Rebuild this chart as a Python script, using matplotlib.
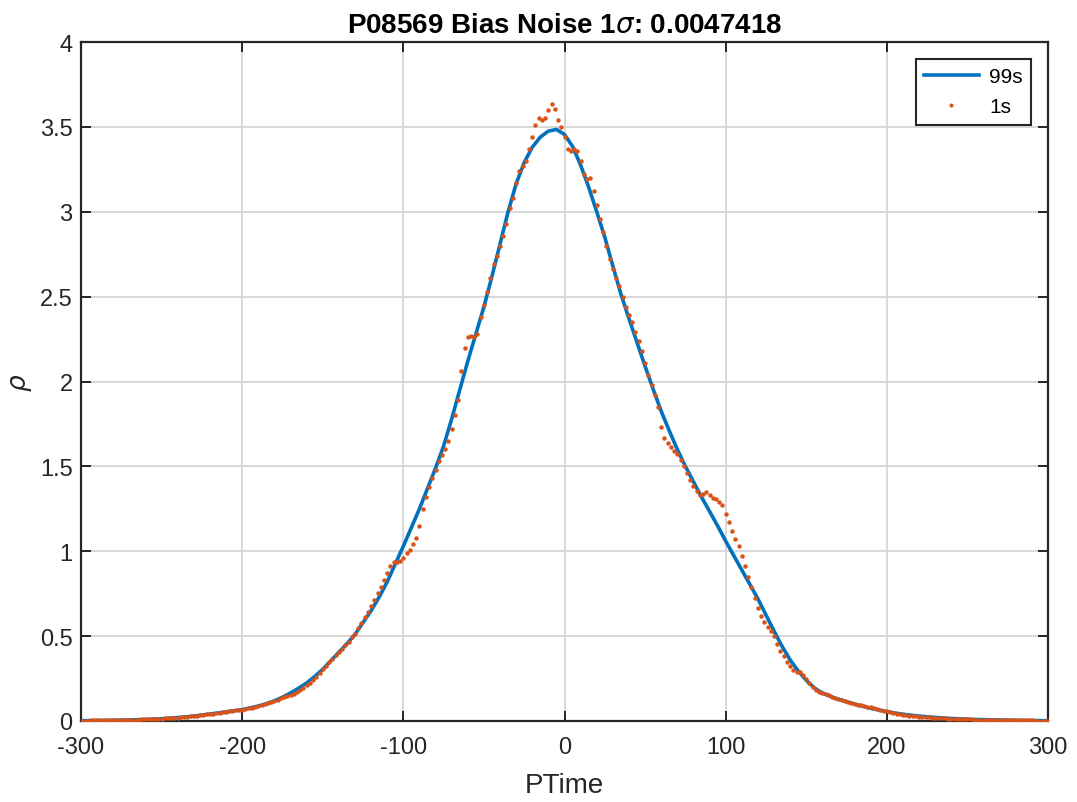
import numpy as np
import matplotlib.pyplot as plt

# smooth 99s curve, every 5 units from -300 to 300
x_99 = np.arange(-300, 301, 5)
rho_99 = [
    0.002, 0.002, 0.003, 0.003, 0.004, 0.005, 0.006, 0.008, 0.009, 0.011,   # -300..-255
    0.013, 0.016, 0.020, 0.024, 0.029, 0.035, 0.041, 0.047, 0.054, 0.060,   # -250..-205
    0.067, 0.077, 0.088, 0.102, 0.119, 0.140, 0.165, 0.193, 0.224, 0.262,   # -200..-155
    0.305, 0.355, 0.405, 0.455, 0.51, 0.58, 0.65, 0.73, 0.82, 0.925,        # -150..-105
    1.03, 1.14, 1.25, 1.37, 1.49, 1.62, 1.78, 1.95, 2.12, 2.28,             # -100..-55
    2.44, 2.62, 2.81, 3.00, 3.165, 3.29, 3.38, 3.44, 3.475, 3.485,          # -50..-5
    3.455, 3.385, 3.275, 3.145, 3.00, 2.85, 2.68, 2.515, 2.37, 2.23,        # 0..45
    2.09, 1.955, 1.825, 1.71, 1.60, 1.50, 1.41, 1.32, 1.235, 1.15,          # 50..95
    1.06, 0.975, 0.89, 0.805, 0.72, 0.625, 0.53, 0.44, 0.36, 0.295,         # 100..145
    0.24, 0.195, 0.165, 0.145, 0.128, 0.114, 0.100, 0.087, 0.075, 0.065,    # 150..195
    0.055, 0.047, 0.040, 0.034, 0.029, 0.025, 0.021, 0.018, 0.015, 0.013,   # 200..245
    0.011, 0.009, 0.008, 0.007, 0.006, 0.005, 0.004, 0.003, 0.003, 0.002,   # 250..295
    0.002,                                                                  # 300
]

# noisy 1s estimate, every 2 units from -300 to 300
x_1 = np.arange(-300, 301, 2)
rho_1 = [
    # -300..-200
    0.002, 0.002, 0.002, 0.003, 0.003, 0.003, 0.003, 0.003, 0.004, 0.004,
    0.004, 0.005, 0.005, 0.005, 0.006, 0.006, 0.007, 0.008, 0.008, 0.009,
    0.009, 0.010, 0.011, 0.012, 0.012, 0.013, 0.015, 0.016, 0.017, 0.019,
    0.020, 0.022, 0.023, 0.025, 0.027, 0.029, 0.032, 0.034, 0.036, 0.039,
    0.041, 0.043, 0.046, 0.049, 0.052, 0.054, 0.057, 0.059, 0.062, 0.064,
    0.067,
    # -198..-150
    0.071, 0.075, 0.078, 0.083, 0.087, 0.093, 0.098, 0.105, 0.111, 0.117,
    0.125, 0.133, 0.141, 0.149, 0.156, 0.162, 0.172, 0.183, 0.196, 0.21,
    0.223, 0.242, 0.262, 0.283, 0.305,
    # -148..-100
    0.325, 0.345, 0.366, 0.386, 0.405, 0.425, 0.446, 0.468, 0.492, 0.515,
    0.55, 0.58, 0.61, 0.645, 0.68, 0.715, 0.755, 0.79, 0.83, 0.87,
    0.915, 0.935, 0.935, 0.94, 0.96,
    # -98..-50
    0.99, 1.01, 1.04, 1.08, 1.15, 1.25, 1.32, 1.38, 1.43, 1.48,
    1.53, 1.565, 1.60, 1.65, 1.72, 1.80, 1.89, 2.06, 2.20, 2.265,
    2.27, 2.26, 2.28, 2.38, 2.45,
    # -48..0
    2.53, 2.61, 2.69, 2.74, 2.80, 2.86, 2.93, 3.02, 3.08, 3.17,
    3.24, 3.27, 3.30, 3.37, 3.44, 3.51, 3.55, 3.54, 3.555, 3.60,
    3.635, 3.605, 3.54, 3.50, 3.44,
    # 2..50
    3.37, 3.36, 3.37, 3.36, 3.30, 3.22, 3.19, 3.20, 3.12, 3.04,
    2.96, 2.88, 2.80, 2.72, 2.66, 2.61, 2.56, 2.50, 2.44, 2.39,
    2.35, 2.29, 2.24, 2.18, 2.11,
    # 52..100
    2.04, 1.98, 1.92, 1.85, 1.73, 1.665, 1.64, 1.615, 1.59, 1.57,
    1.535, 1.50, 1.46, 1.42, 1.385, 1.355, 1.33, 1.337, 1.347, 1.33,
    1.315, 1.305, 1.29, 1.275, 1.22,
    # 102..150
    1.17, 1.12, 1.075, 1.03, 0.97, 0.915, 0.85, 0.79, 0.725, 0.665,
    0.62, 0.585, 0.555, 0.53, 0.50, 0.455, 0.415, 0.38, 0.35, 0.325,
    0.30, 0.288, 0.287, 0.27, 0.245,
    # 152..200
    0.222, 0.20, 0.182, 0.17, 0.165, 0.16, 0.152, 0.143, 0.135, 0.129,
    0.123, 0.117, 0.112, 0.107, 0.102, 0.097, 0.092, 0.088, 0.085, 0.082,
    0.078, 0.073, 0.067, 0.061, 0.056,
    # 202..250
    0.052, 0.048, 0.044, 0.041, 0.038, 0.035, 0.032, 0.030, 0.028, 0.026,
    0.024, 0.022, 0.021, 0.019, 0.018, 0.017, 0.016, 0.015, 0.014, 0.013,
    0.012, 0.011, 0.010, 0.010, 0.009,
    # 252..300
    0.009, 0.008, 0.008, 0.007, 0.007, 0.006, 0.006, 0.006, 0.005, 0.005,
    0.005, 0.004, 0.004, 0.004, 0.004, 0.003, 0.003, 0.003, 0.003, 0.003,
    0.002, 0.002, 0.002, 0.002, 0.002,
]

x_ticks = [-300, -200, -100, 0, 100, 200, 300]
y_ticks = [0, 0.5, 1, 1.5, 2, 2.5, 3, 3.5, 4]
y_tick_labels = ['0', '0.5', '1', '1.5', '2', '2.5', '3', '3.5', '4']

plt.rcParams['font.family'] = ['Liberation Sans', 'DejaVu Sans']
plt.rcParams['axes.unicode_minus'] = False
txt = '#262626'

fig = plt.figure(figsize=(10.77, 8.03), dpi=100)
ax = fig.add_axes([81/1077, 81/803, 967/1077, 679/803])

ax.plot(x_99, rho_99, color='#0072BD', linewidth=2.6, label='99s', zorder=3,
        solid_joinstyle='round')
ax.plot(x_1, rho_1, linestyle='none', marker='o', markersize=3.2,
        markeredgewidth=0, color='#D95319', label='1s', zorder=4)

ax.set_xlim(-300, 300)
ax.set_ylim(0, 4)
ax.set_xticks(x_ticks)
ax.set_yticks(y_ticks)
ax.set_yticklabels(y_tick_labels)
ax.grid(True, color='#D6D6D6', linewidth=1.3)
ax.set_axisbelow(True)
for s in ax.spines.values():
    s.set_color(txt)
    s.set_linewidth(1.6)
ax.tick_params(direction='in', length=7, width=1.4, colors=txt,
               labelsize=17, top=True, right=True)
ax.tick_params(axis='x', pad=11)
ax.tick_params(axis='y', pad=6)

ax.set_xlabel('PTime', fontsize=20, color=txt, labelpad=10)
ax.set_ylabel(r'$\rho$', fontsize=19, color=txt, labelpad=4)
ax.set_title(r'P08569 Bias Noise 1$\sigma$: 0.0047418', fontsize=20,
             fontweight='bold', color='black', pad=7)

leg = ax.legend(loc='upper right', fontsize=15, frameon=True, fancybox=False,
                edgecolor=txt, framealpha=1, borderaxespad=0.8,
                handlelength=2.6, handletextpad=0.5, borderpad=0.42,
                labelspacing=0.5, markerscale=0.9)
leg.get_frame().set_linewidth(1.5)

fig.savefig('out.png', dpi=100)
